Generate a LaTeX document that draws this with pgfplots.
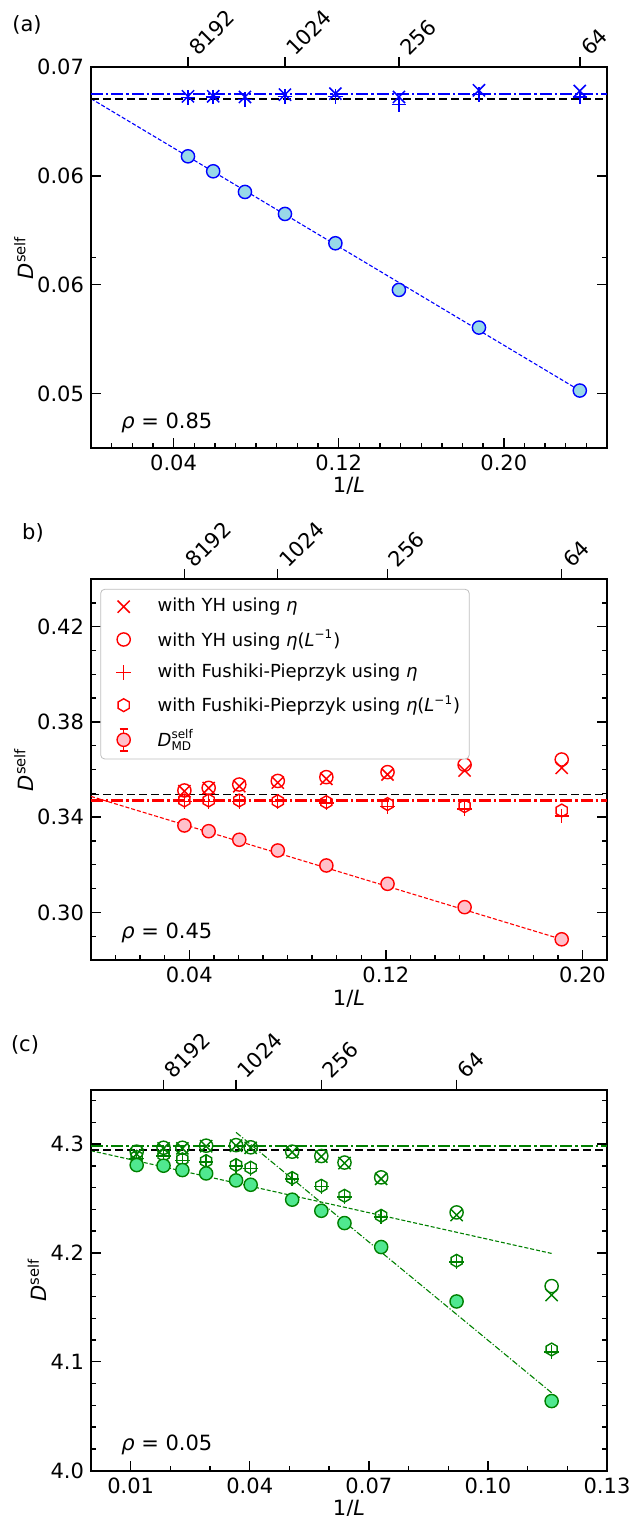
\documentclass[border=0pt]{standalone}
\usepackage{fontspec}
\setmainfont{DejaVu Sans}[ItalicFont={DejaVu Sans Oblique}]
\usepackage{amsmath}
\usepackage{pgfplots}
\pgfplotsset{compat=1.18}

\definecolor{fillblue}{HTML}{98D8E8}
\definecolor{fillpink}{HTML}{FFC0CB}
\definecolor{fillgreen}{HTML}{50E890}
\definecolor{mgreen}{HTML}{008000}
\definecolor{legframe}{HTML}{BFBFBF}

\newcommand\fs{\fontsize{10.5}{12.6}\selectfont}

% matplotlib-like hexagon, pointy top
\pgfdeclareplotmark{hexagon}{%
  \pgfpathmoveto{\pgfqpointpolar{90}{\pgfplotmarksize}}%
  \pgfpathlineto{\pgfqpointpolar{150}{\pgfplotmarksize}}%
  \pgfpathlineto{\pgfqpointpolar{210}{\pgfplotmarksize}}%
  \pgfpathlineto{\pgfqpointpolar{270}{\pgfplotmarksize}}%
  \pgfpathlineto{\pgfqpointpolar{330}{\pgfplotmarksize}}%
  \pgfpathlineto{\pgfqpointpolar{30}{\pgfplotmarksize}}%
  \pgfpathclose
  \pgfusepathqstroke}

\pgfplotsset{
  panel/.style={width=258pt, height=190.5pt, scale only axis, anchor=south west,
    tick align=inside, xtick pos=left, ytick pos=both,
    major tick length=5pt, minor tick length=2.5pt,
    tick style={black, line width=0.7pt},
    axis line style={line width=0.9pt},
    tick label style={font=\fs}, label style={font=\fs},
    /pgf/number format/assume math mode=true, scaled ticks=false,
    xlabel={1/\textit{L}}, ylabel={\textit{D}\textsuperscript{self}},
    xlabel style={yshift=3.5pt}, ylabel shift=-5pt},
  toppanel/.style={width=258pt, height=190.5pt, scale only axis, anchor=south west,
    axis line style={draw=none}, ytick=\empty, xtick pos=right, xticklabel pos=right,
    tick align=outside, major tick length=5pt, tick style={black, line width=0.7pt},
    ymin=0, ymax=1, xticklabel style={font=\fs, rotate=45, inner sep=1.5pt, yshift=-3.5pt}},
  legimg/.style={legend image code/.code={\draw[mark repeat=2,mark phase=2,##1] plot coordinates {(0pt,0pt) (9pt,0pt) (24pt,0pt)};}},
  mx/.style={only marks, mark=x, mark size=4.3pt, line width=0.75pt, legimg},
  mo/.style={only marks, mark=o, mark size=3.3pt, line width=0.7pt, legimg},
  mp/.style={only marks, mark=+, mark size=3.6pt, line width=0.7pt, legimg},
  mh/.style={only marks, mark=hexagon, mark size=3.2pt, line width=0.7pt, legimg},
  mmd/.style={only marks, mark=*, mark size=3.3pt, line width=0.7pt},
  hdash/.style={black, line width=0.9pt, dash pattern=on 4pt off 2pt},
  hdashdot/.style={line width=1.1pt, dash pattern=on 6pt off 1.5pt on 1.2pt off 1.5pt},
  fitdash/.style={line width=0.55pt, dash pattern=on 2pt off 1pt},
  fitdashdot/.style={line width=0.55pt, dash pattern=on 3pt off 1pt on 0.6pt off 1pt},
  mdleg/.style={legend image code/.code={
    \draw[red, solid, line width=0.7pt] (9pt,-5.5pt) -- (9pt,5.5pt) (7pt,-5.5pt) -- (11pt,-5.5pt) (7pt,5.5pt) -- (11pt,5.5pt);
    \draw[red, solid, fill=fillpink, line width=0.7pt] (9pt,0pt) circle (3.3pt);
    \path[draw=none, fill=none] (0pt,0pt) (24pt,0pt);}},
}

\begin{document}
\begin{tikzpicture}
\path[use as bounding box] (0,0) rectangle (315pt,-758pt);

% ---------------- (a) rho = 0.85 ----------------
\node[font=\fs] at (13.5pt,-12.5pt) {(a)};
\begin{axis}[panel, at={(45.5pt,-224pt)},
  xmin=0, xmax=0.25, ymin=0.0525, ymax=0.07,
  xtick={0.04,0.12,0.20}, xticklabels={0.04,0.12,0.20},
  minor xtick={0.01,0.02,...,0.245},
  ytick={0.055,0.06,0.065,0.07}, yticklabels={0.05,0.06,0.06,0.07},
  minor ytick={0.06125}]
\addplot[blue, fitdash] coordinates {(0,0.068546) (0.23682,0.055139)};
\addplot[hdash] coordinates {(0,0.068546) (0.25,0.068546)};
\addplot[blue, hdashdot] coordinates {(0,0.068745) (0.25,0.068745)};
\addplot[blue, mx] coordinates {(0.04699,0.068653) (0.05920,0.068653) (0.07459,0.068623) (0.09398,0.068730)
  (0.11841,0.068776) (0.14919,0.068623) (0.18797,0.068929) (0.23682,0.068898)};
\addplot[blue, mp] coordinates {(0.04699,0.068592) (0.05920,0.068623) (0.07459,0.068500) (0.09398,0.068653)
  (0.11841,0.068653) (0.14919,0.068286) (0.18797,0.068745) (0.23682,0.068623)};
\addplot[blue, mmd, mark options={fill=fillblue}] coordinates {(0.04699,0.065898) (0.05920,0.065210)
  (0.07459,0.064261) (0.09398,0.063251) (0.11841,0.061904) (0.14919,0.059761) (0.18797,0.058031) (0.23682,0.055139)};
\node[anchor=west, font=\fs] at (rel axis cs:0.045,0.066) {\textit{ρ} = 0.85};
\end{axis}
\begin{axis}[toppanel, at={(45.5pt,-224pt)}, xmin=0, xmax=0.25,
  xtick={0.04699,0.09398,0.14919,0.23682}, xticklabels={\rlap{8192},\rlap{1024},\rlap{256},\rlap{64}}]
\end{axis}

% ---------------- (b) rho = 0.45 ----------------
\node[font=\fs] at (16.5pt,-266.5pt) {b)};
\begin{axis}[panel, at={(45.5pt,-480pt)},
  xmin=0, xmax=0.21, ymin=0.28, ymax=0.44,
  xtick={0.04,0.12,0.20}, xticklabels={0.04,0.12,0.20},
  minor xtick={0.01,0.02,...,0.205},
  ytick={0.30,0.34,0.38,0.42}, yticklabels={0.30,0.34,0.38,0.42},
  minor ytick={0.29,0.30,...,0.435},
  legend style={at={(0.018,0.974)}, anchor=north west, draw=legframe, fill=white,
    rounded corners=2pt, font=\fontsize{9}{10.8}\selectfont, row sep=3.4pt, inner sep=2.5pt},
  legend cell align=left]
\addplot[red, fitdash, forget plot] coordinates {(0,0.3487) (0.19157,0.2887)};
\addplot[hdash, forget plot] coordinates {(0,0.3495) (0.21,0.3495)};
\addplot[red, hdashdot, forget plot] coordinates {(0,0.3470) (0.21,0.3470)};
\addplot[red, mx] coordinates {(0.03801,0.3509) (0.04789,0.3522) (0.06034,0.3530) (0.07602,0.3545)
  (0.09578,0.3561) (0.12068,0.3579) (0.15205,0.3596) (0.19157,0.3607)};
\addlegendentry{with YH using \textit{η}}
\addplot[red, mo] coordinates {(0.03801,0.3512) (0.04789,0.3523) (0.06034,0.3537) (0.07602,0.3552)
  (0.09578,0.3568) (0.12068,0.3589) (0.15205,0.3620) (0.19157,0.3642)};
\addlegendentry{with YH using \textit{η}(\textit{L}\textsuperscript{−1})}
\addplot[red, mp] coordinates {(0.03801,0.3466) (0.04789,0.3466) (0.06034,0.3466) (0.07602,0.3466)
  (0.09578,0.3459) (0.12068,0.3445) (0.15205,0.3435) (0.19157,0.3405)};
\addlegendentry{with Fushiki-Pieprzyk using \textit{η}}
\addplot[red, mh] coordinates {(0.03801,0.3470) (0.04789,0.3470) (0.06034,0.3470) (0.07602,0.3467)
  (0.09578,0.3463) (0.12068,0.3455) (0.15205,0.3446) (0.19157,0.3428)};
\addlegendentry{with Fushiki-Pieprzyk using \textit{η}(\textit{L}\textsuperscript{−1})}
\addplot[red, mmd, mark options={fill=fillpink}, mdleg]
  coordinates {(0.03801,0.3365) (0.04789,0.3341) (0.06034,0.3305) (0.07602,0.3260)
  (0.09578,0.3197) (0.12068,0.3120) (0.15205,0.3022) (0.19157,0.2887)};
\addlegendentry{$\textit{D}^{\text{self}}_{\text{MD}}$}
\node[anchor=west, font=\fs] at (rel axis cs:0.045,0.071) {\textit{ρ} = 0.45};
\end{axis}
\begin{axis}[toppanel, at={(45.5pt,-480pt)}, xmin=0, xmax=0.21,
  xtick={0.03801,0.07602,0.12068,0.19157}, xticklabels={\rlap{8192},\rlap{1024},\rlap{256},\rlap{64}}]
\end{axis}

% ---------------- (c) rho = 0.05 ----------------
\node[font=\fs] at (12.5pt,-522.5pt) {(c)};
\begin{axis}[panel, at={(45.5pt,-735.3pt)},
  xmin=0, xmax=0.13, ymin=4.0, ymax=4.35,
  xtick={0.01,0.04,0.07,0.10,0.13}, xticklabels={0.01,0.04,0.07,0.10,0.13},
  minor xtick={0.01,0.02,...,0.125},
  ytick={4.0,4.1,4.2,4.3}, yticklabels={4.0,4.1,4.2,4.3},
  minor ytick={4.02,4.04,...,4.345}]
\addplot[mgreen, fitdash] coordinates {(0,4.2939) (0.11605,4.1995)};
\addplot[mgreen, fitdashdot] coordinates {(0.03655,4.3107) (0.11605,4.0715)};
\addplot[hdash] coordinates {(0,4.2945) (0.13,4.2945)};
\addplot[mgreen, hdashdot] coordinates {(0,4.2982) (0.13,4.2982)};
\addplot[mgreen, mx] coordinates {(0.011513,4.2908) (0.018276,4.2960) (0.023026,4.2960) (0.029011,4.2980)
  (0.036552,4.2985) (0.040231,4.2965) (0.050688,4.2925) (0.058024,4.2885) (0.063864,4.2825)
  (0.073105,4.2680) (0.092107,4.2348) (0.11605,4.1613)};
\addplot[mgreen, mo] coordinates {(0.011513,4.2930) (0.018276,4.2966) (0.023026,4.2966) (0.029011,4.2985)
  (0.036552,4.2990) (0.040231,4.2970) (0.050688,4.2930) (0.058024,4.2890) (0.063864,4.2830)
  (0.073105,4.2694) (0.092107,4.2372) (0.11605,4.1695)};
\addplot[mgreen, mp] coordinates {(0.011513,4.2870) (0.018276,4.2890) (0.023026,4.2850) (0.029011,4.2835)
  (0.036552,4.2800) (0.040231,4.2775) (0.050688,4.2680) (0.058024,4.2610) (0.063864,4.2515)
  (0.073105,4.2330) (0.092107,4.1915) (0.11605,4.1090)};
\addplot[mgreen, mh] coordinates {(0.011513,4.2884) (0.018276,4.2900) (0.023026,4.2860) (0.029011,4.2844)
  (0.036552,4.2807) (0.040231,4.2783) (0.050688,4.2688) (0.058024,4.2617) (0.063864,4.2525)
  (0.073105,4.2341) (0.092107,4.1928) (0.11605,4.1113)};
\addplot[mgreen, mmd, mark options={fill=fillgreen}] coordinates {(0.011513,4.2807) (0.018276,4.2801)
  (0.023026,4.2761) (0.029011,4.2730) (0.036552,4.2666) (0.040231,4.2626) (0.050688,4.2489)
  (0.058024,4.2387) (0.063864,4.2274) (0.073105,4.2054) (0.092107,4.1554) (0.11605,4.0639)};
\node[anchor=west, font=\fs] at (rel axis cs:0.045,0.067) {\textit{ρ} = 0.05};
\end{axis}
\begin{axis}[toppanel, at={(45.5pt,-735.3pt)}, xmin=0, xmax=0.13,
  xtick={0.018276,0.036552,0.058024,0.092107}, xticklabels={\rlap{8192},\rlap{1024},\rlap{256},\rlap{64}}]
\end{axis}
\end{tikzpicture}
\end{document}
